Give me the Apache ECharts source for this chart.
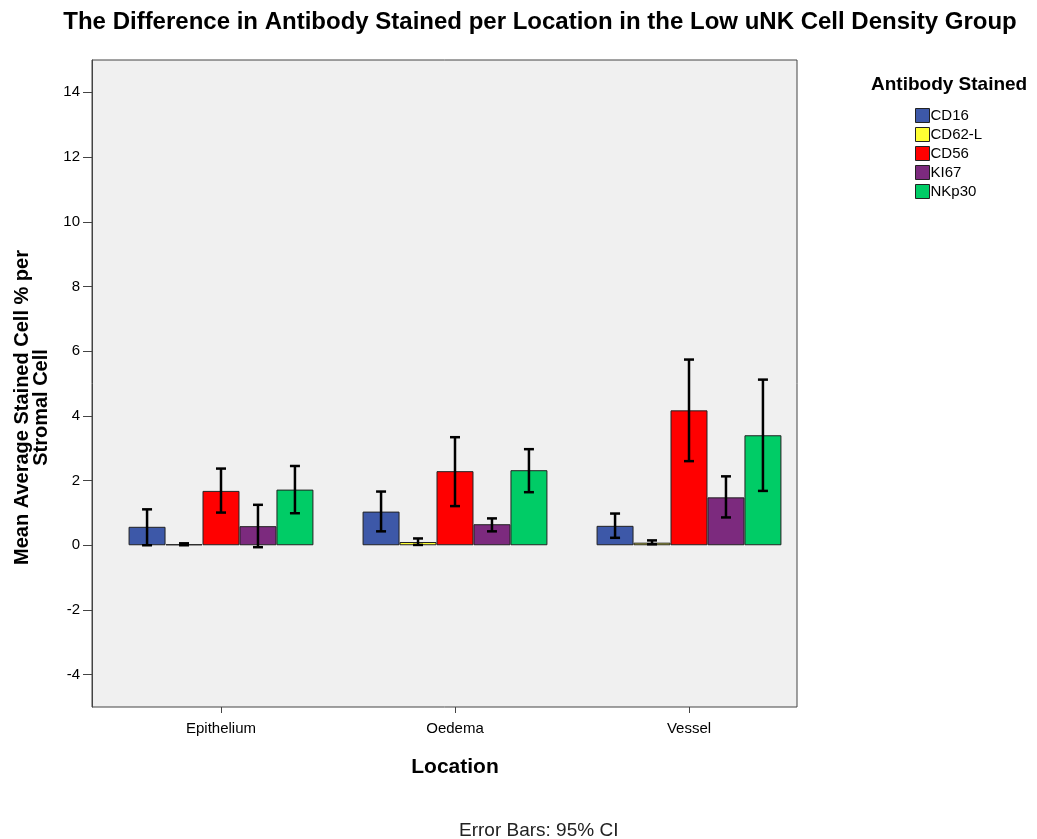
<!DOCTYPE html>
<html>
<head>
<meta charset="utf-8">
<script src="https://cdn.jsdelivr.net/npm/echarts@6/dist/echarts.min.js"></script>
<style>
  html, body { margin: 0; padding: 0; background: #fff; }
  #main { width: 1037px; height: 839px; }
</style>
</head>
<body>
<div id="main"></div>
<script>
// data
var locations = ['Epithelium', 'Oedema', 'Vessel'];
var antibodies = ['CD16', 'CD62-L', 'CD56', 'KI67', 'NKp30'];
var yTicks = [-4, -2, 0, 2, 4, 6, 8, 10, 12, 14];

var cd16 = [0.57, 1.04, 0.60];
var cd62l = [0.03, 0.10, 0.08];
var cd56 = [1.68, 2.29, 4.17];
var ki67 = [0.59, 0.65, 1.48];
var nkp30 = [1.72, 2.32, 3.40];

// 95% CI (lower / upper)
var cd16Low = [0.00, 0.43, 0.23];
var cd16High = [1.11, 1.66, 0.98];
var cd62lLow = [0.00, 0.01, 0.03];
var cd62lHigh = [0.06, 0.21, 0.15];
var cd56Low = [1.01, 1.21, 2.60];
var cd56High = [2.37, 3.34, 5.74];
var ki67Low = [-0.06, 0.43, 0.86];
var ki67High = [1.25, 0.83, 2.13];
var nkp30Low = [0.99, 1.64, 1.68];
var nkp30High = [2.45, 2.97, 5.12];

var values = [cd16, cd62l, cd56, ki67, nkp30];
var lows = [cd16Low, cd62lLow, cd56Low, ki67Low, nkp30Low];
var highs = [cd16High, cd62lHigh, cd56High, ki67High, nkp30High];
var colors = ['#3D58A8', '#FFFF33', '#FF0000', '#7C2A7E', '#00CC66'];

var font = 'Arial, "Liberation Sans", sans-serif';
var gapRatio = 0.21;

var dom = document.getElementById('main');
var myChart = echarts.init(dom);

function errorRenderer(idx) {
    return function (params, api) {
        var cat = api.value(0);
        var lo = api.coord([cat, api.value(1)]);
        var hi = api.coord([cat, api.value(2)]);
        var band = api.size([1, 0])[0];
        var total = band * (1 - gapRatio);
        var bw = total / antibodies.length;
        var x = lo[0] - total / 2 + bw * (idx + 0.5);
        var cap = 5;
        var st = { stroke: '#000', lineWidth: 2.5 };
        return {
            type: 'group',
            children: [
                { type: 'line', shape: { x1: x, y1: lo[1], x2: x, y2: hi[1] }, style: st },
                { type: 'line', shape: { x1: x - cap, y1: lo[1], x2: x + cap, y2: lo[1] }, style: st },
                { type: 'line', shape: { x1: x - cap, y1: hi[1], x2: x + cap, y2: hi[1] }, style: st }
            ]
        };
    };
}

var series = [];
antibodies.forEach(function (name, i) {
    series.push({
        name: name,
        type: 'bar',
        xAxisIndex: 1,
        yAxisIndex: 1,
        data: values[i],
        barGap: 0,
        barCategoryGap: (gapRatio * 100) + '%',
        itemStyle: { color: colors[i], borderColor: '#222', borderWidth: 1 },
        emphasis: { disabled: true }
    });
});
antibodies.forEach(function (name, i) {
    series.push({
        type: 'custom',
        xAxisIndex: 1,
        yAxisIndex: 1,
        renderItem: errorRenderer(i),
        data: locations.map(function (l, j) { return [j, lows[i][j], highs[i][j]]; }),
        encode: { x: 0, y: [1, 2] },
        z: 10,
        silent: true
    });
});

option = {
    backgroundColor: '#fff',
    animation: false,
    textStyle: { fontFamily: font },
    title: [{
        text: 'The Difference in Antibody Stained per Location in the Low uNK Cell Density Group',
        left: 535,
        textAlign: 'center',
        top: 5,
        textStyle: { fontSize: 24, fontWeight: 'bold', color: '#000', fontFamily: font }
    }, {
        text: 'Antibody Stained',
        left: 866,
        top: 70,
        textStyle: { fontSize: 19, fontWeight: 'bold', color: '#000', fontFamily: font }
    }, {
        text: 'Error Bars: 95% CI',
        left: 454,
        top: 816,
        textStyle: { fontSize: 19, fontWeight: 'normal', color: '#222', fontFamily: font }
    }],
    legend: {
        data: antibodies,
        orient: 'vertical',
        left: 910,
        top: 103,
        itemWidth: 14,
        itemHeight: 14,
        itemGap: 4,
        icon: 'rect',
        itemStyle: { borderColor: '#222', borderWidth: 1 },
        textStyle: { fontSize: 15, lineHeight: 14, color: '#000', fontFamily: font, padding: [0, 0, 0, -4] }
    },
    grid: [{
        // plot frame
        left: 92,
        right: 240,
        top: 60,
        bottom: 132,
        show: true,
        backgroundColor: '#F0F0F0',
        borderColor: '#444',
        borderWidth: 1
    }, {
        // bar area, categories are offset inside the frame
        left: 104,
        right: 231,
        top: 60,
        bottom: 132,
        show: false
    }],
    xAxis: [{
        type: 'value',
        gridIndex: 0,
        min: 0,
        max: 1,
        show: false
    }, {
        type: 'category',
        gridIndex: 1,
        data: locations,
        name: 'Location',
        nameLocation: 'middle',
        nameGap: 50,
        nameTextStyle: { fontSize: 21, fontWeight: 'bold', color: '#000' },
        axisLine: { show: false, onZero: false },
        axisTick: { show: true, alignWithLabel: true, length: 6, lineStyle: { color: '#444' } },
        axisLabel: { fontSize: 15, color: '#000', margin: 14 },
        splitLine: { show: false }
    }],
    yAxis: [{
        type: 'value',
        gridIndex: 0,
        min: -5,
        max: 15,
        name: 'Mean Average Stained Cell % per\nStromal Cell',
        nameLocation: 'middle',
        nameGap: 41,
        nameTextStyle: { fontSize: 20, fontWeight: 'bold', color: '#000', lineHeight: 19, padding: [0, 0, 0, -48] },
        axisLine: { show: true, lineStyle: { color: '#444', width: 1 } },
        axisTick: { show: true, length: 9, customValues: yTicks, lineStyle: { color: '#444' } },
        axisLabel: { fontSize: 15, color: '#000', margin: 12, customValues: yTicks },
        splitLine: { show: false }
    }, {
        type: 'value',
        gridIndex: 1,
        min: -5,
        max: 15,
        show: false,
        splitLine: { show: false }
    }],
    series: series
};
myChart.setOption(option, true);
</script>
</body>
</html>
